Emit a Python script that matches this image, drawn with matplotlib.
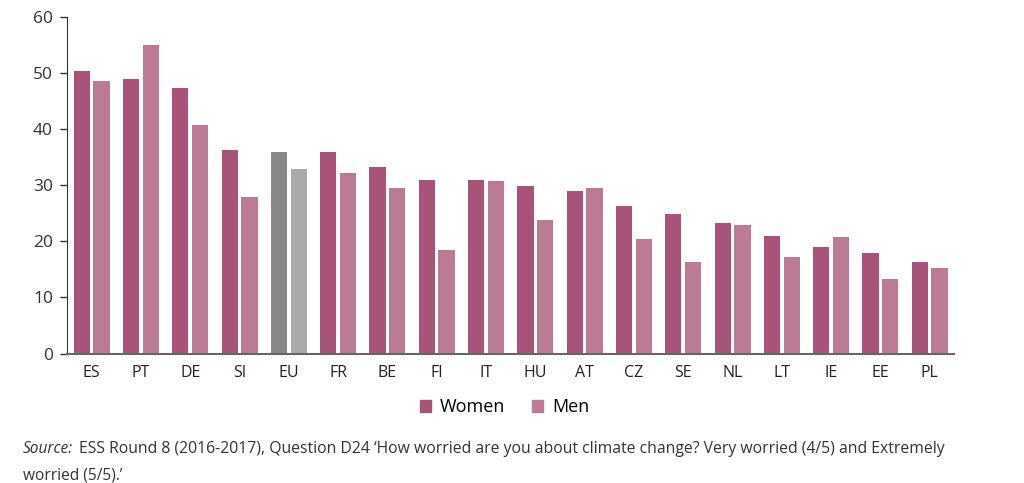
import numpy as np
import matplotlib
matplotlib.use("Agg")
import matplotlib.pyplot as plt
from matplotlib.patches import Patch

# data
countries = ["ES", "PT", "DE", "SI", "EU", "FR", "BE", "FI", "IT", "HU",
             "AT", "CZ", "SE", "NL", "LT", "IE", "EE", "PL"]
women = [50.4, 48.9, 47.3, 36.3, 35.9, 35.9, 33.2, 30.9, 30.9, 29.8,
         28.9, 26.3, 24.8, 23.3, 21.0, 19.0, 17.9, 16.4]
men = [48.6, 55.0, 40.7, 27.9, 32.9, 32.1, 29.5, 18.4, 30.7, 23.8,
       29.5, 20.4, 16.4, 23.0, 17.2, 20.7, 13.3, 15.3]

women_col = "#a8537a"
men_col = "#bb7b95"
eu_women_col = "#888888"
eu_men_col = "#aaaaaa"

plt.rcParams["font.family"] = ["Open Sans", "DejaVu Sans"]

fig = plt.figure(figsize=(10.24, 4.83), dpi=100)
ax = fig.add_axes([0.0654, 0.268, 0.8666, 0.697])

x = np.arange(len(countries))
w_cols = [eu_women_col if c == "EU" else women_col for c in countries]
m_cols = [eu_men_col if c == "EU" else men_col for c in countries]
ax.bar(x - 0.2, women, width=0.33, color=w_cols, zorder=2)
ax.bar(x + 0.2, men, width=0.33, color=m_cols, zorder=2)

ax.set_xlim(-0.5, 17.5)
ax.set_ylim(0, 60)
ax.set_yticks(range(0, 61, 10))
ax.set_xticks(x)
ax.set_xticklabels(countries, fontsize=11.5, color="#222222")
ax.tick_params(axis="x", length=0, pad=8)
ax.tick_params(axis="y", length=5, width=1, color="#333333", labelsize=12.5,
               labelcolor="#333333", pad=5)

for s in ["top", "right"]:
    ax.spines[s].set_visible(False)
ax.spines["left"].set_color("#333333")
ax.spines["bottom"].set_color("#666666")
ax.spines["bottom"].set_linewidth(1.5)

handles = [Patch(color=women_col, label="Women"), Patch(color=men_col, label="Men")]
fig.legend(handles=handles, loc="center", bbox_to_anchor=(0.493, 0.157), ncol=2,
           frameon=False, fontsize=13, handlelength=0.6, handleheight=0.6,
           handletextpad=0.5, columnspacing=1.5)

src = fig.text(0.022, 0.0704, "Source:", style="italic", fontsize=11.2, color="#333333",
               va="center")
fig.canvas.draw()
bb = src.get_window_extent().transformed(fig.transFigure.inverted())
fig.text(bb.x1 + 0.006, 0.0704, "ESS Round 8 (2016-2017), Question D24 \u2018How worried are you about "
         "climate change? Very worried (4/5) and Extremely", fontsize=11.3, color="#333333",
         va="center")
fig.text(0.022, 0.0145, "worried (5/5).\u2019", fontsize=11.2, color="#333333", va="center")

fig.savefig("out.png", dpi=100)
